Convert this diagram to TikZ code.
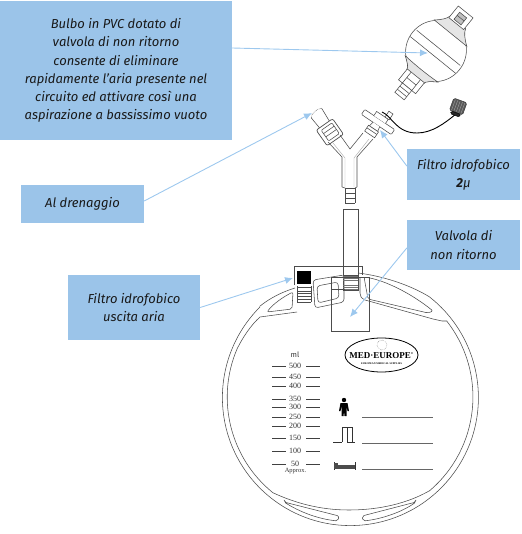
\documentclass[tikz,border=0pt]{standalone}
\usepackage{fontspec}
\usetikzlibrary{arrows.meta,shapes.geometric}
\setmainfont{Fira Sans}
\newfontfamily\logofont{Liberation Serif}
\begin{document}
\begin{tikzpicture}[x=1pt,y=-1pt,font=\fontsize{13}{18}\selectfont,
  etichetta/.style={fill=azzurro,align=center,inner sep=0pt,font=\fontsize{13}{18.3}\selectfont\itshape,text=black!90},
  freccia/.style={azzurroF,line width=0.9pt,-{Latex[length=8pt,width=7pt]}},
  tratto/.style={draw=black!70,line width=0.55pt},
  sottile/.style={draw=black!35,line width=0.4pt},
  tacca/.style={draw=black!75,line width=1pt},
  scala/.style={inner sep=0pt,text=black!80,font=\logofont\fontsize{8}{8}\selectfont}]
\definecolor{azzurro}{RGB}{155,196,233}
\definecolor{azzurroF}{RGB}{157,200,238}
\useasboundingbox (0,0) rectangle (521,534);
\node[etichetta,minimum width=232pt,minimum height=139pt] (bulbo) at (116,70.5)
  {Bulbo in PVC dotato di\\valvola di non ritorno\\consente di eliminare\\rapidamente l'aria presente nel\\circuito ed attivare così una\\aspirazione a bassissimo vuoto};
\node[etichetta,minimum width=123pt,minimum height=38pt] (drenaggio) at (82.5,204) {Al drenaggio};
\node[etichetta,minimum width=132pt,minimum height=65pt] (uscita) at (134,307.5) {Filtro idrofobico\\uscita aria};
\node[etichetta,minimum width=113pt,minimum height=51pt] (filtro) at (463.5,174.5) {Filtro idrofobico\\{\bfseries 2}µ};
\node[etichetta,minimum width=113pt,minimum height=50pt] (valvola) at (463.5,245) {Valvola di\\non ritorno};

\begin{scope}[shift={(436,51)},rotate=-39]
  \draw[tratto] (0,0) ellipse (30 and 31);
  \draw[tratto] (-28,-4) -- (28,-4);
  \draw[tratto] (-29,5) -- (29,5);
  \filldraw[tratto,fill=black!10] (-21,-23) .. controls (-8,-23) and (8,-23) .. (21,-23) .. controls (14,-28) and (10,-32) .. (9,-36) -- (-11,-36) .. controls (-12,-32) and (-15,-28) .. cycle;
  \filldraw[tratto,fill=white] (-11,-49) rectangle (8,-34);
  \filldraw[tratto,fill=black!25] (-6,-45) rectangle (3,-36);
  \draw[tratto] (-6,-41) -- (3,-41);
  \filldraw[tratto,fill=black!10] (-21,23) .. controls (-8,24) and (8,24) .. (21,23) .. controls (15,27) and (11,30) .. (11,33) -- (-11,33) .. controls (-11,30) and (-15,27) .. cycle;
  \filldraw[tratto,fill=white] (-11,32) rectangle (11,46);
  \draw[tratto] (-6,32) -- (-6,46) (6,32) -- (6,46) (-6,39) -- (6,39);
  \filldraw[tratto,fill=white] (-6,46) rectangle (6,58);
  \draw[tratto] (-6,50) -- (6,50) (-6,54) -- (6,54);
\end{scope}

\draw[tratto] (342,187) -- (342,157) -- (328,142);
\draw[tratto] (340,135) -- (350,149) -- (363,133);
\draw[tratto] (373,139) -- (357,157) -- (357,187);
\draw[sottile] (345,187) -- (345,158) -- (333,143);
\draw[sottile] (354,187) -- (354,158) -- (369,139);
\draw[tratto] (342,187) -- (345,188) (357,187) -- (355,188);
\foreach \quota in {188,193,198,203} {
  \draw[tratto] (345,\quota) -- (355,\quota);
}
\draw[tratto] (345,188) -- (345,203) (355,188) -- (355,203);

\begin{scope}[shift={(329,131)},rotate=35]
  \draw[tratto] (-6,-8) -- (-7,-21);
  \draw[tratto] (6,-8) -- (7,-23);
  \draw[tratto,densely dotted] (-7,-21) .. controls (-4,-25) and (3,-25) .. (7,-23);
  \draw[tratto,rounded corners=2pt,line width=0.7pt] (-10,-8) rectangle (10,11);
  \draw[tratto,rounded corners=1pt] (-6,-5) rectangle (7,8);
  \draw[tratto] (-6,-1) -- (7,-1) (-6,3) -- (7,3);
\end{scope}

\begin{scope}[shift={(378,122)},rotate=-34]
  \filldraw[tratto,fill=white,rounded corners=1pt] (-18,-3) rectangle (18,3);
  \filldraw[tratto,fill=white] (-7,-3) -- (-7,-8) -- (7,-8) -- (7,-3);
  \filldraw[tratto,fill=white] (3,-8) rectangle (8,-15);
  \filldraw[tratto,fill=white] (-4,3) -- (-5,8) -- (5,8) -- (4,3);
  \filldraw[tratto,fill=white] (-6,8) rectangle (6,15);
  \draw[tratto] (-6,11) -- (6,11);
\end{scope}

\draw[black,line width=0.9pt] (382,112) .. controls (392,116) and (396,133) .. (417,133) .. controls (432,133) and (445,123) .. (456,114);
\begin{scope}[shift={(458,107)},rotate=-20]
  \filldraw[draw=black!80,fill=black!65,rounded corners=1.5pt] (-7,-7) rectangle (7,6);
  \filldraw[draw=black,fill=black!85,rounded corners=1.5pt] (-5,6) rectangle (5,9);
  \foreach \x in {-5,-2.5,0,2.5,5} {
    \draw[black!30,line width=0.3pt] (\x,-6) -- (\x,5);
  }
\end{scope}

\draw[tratto] (343,275) -- (343,209) -- (358,209) -- (358,275);
\draw[tratto] (294,285) -- (294,266) -- (362,266) -- (362,275);
\fill[black] (297,271) rectangle (311,284);
\draw[tratto] (297,286) -- (297,302) (311,286) -- (311,302);
\foreach \quota in {287,291,293,296,299,302} {
  \draw[tratto] (297,\quota) -- (311,\quota);
}
\draw[tratto,rounded corners=3pt] (313,280) -- (344,275) -- (344,302) -- (315,308) -- cycle;
\draw[tratto,rounded corners=3pt] (317,286) -- (338,282) -- (339,298) -- (318,303) -- cycle;
\draw[tratto] (343,275) rectangle (358,290);
\foreach \quota in {276,278,280,285,287,289} {
  \draw[black!55,line width=0.5pt] (343,\quota) -- (358,\quota);
}
\draw[tratto] (331,277) rectangle (369,331);
\draw[tratto] (331,289) -- (345,289);

\draw[tratto] (358,273) .. controls (383,276) and (410,285) .. (429.2,296.7);
\draw[tratto] (429.2,296.7) arc[start angle=-52,end angle=225,radius=128];
\draw[tratto] (295,288) .. controls (282,292) and (270,298) .. (259.5,306.5);
\draw[tratto] (297,312) -- (260,317) .. controls (251,325) and (243,337) .. (237,349);
\draw[tratto] (237,349) arc[start angle=203,end angle=129,radius=123];
\draw[tratto] (272.6,492.6) .. controls (295,503) and (320,510) .. (349,510) .. controls (380,510) and (408,503) .. (429,491);
\draw[tratto] (429,491.2) arc[start angle=50,end angle=-38,radius=123];
\draw[tratto] (447,321) -- (442,321) -- (433,319) -- (365,300) .. controls (361,298) and (360,296) .. (360,293) -- (360,277);
\draw[tratto,rounded corners=2pt] (267,312) .. controls (273,304) and (283,297) .. (293,292) -- (292,309) -- cycle;
\draw[tratto,rounded corners=2pt] (364,277) .. controls (385,280) and (412,294) .. (433,311) -- (428,313) -- (368,299) -- cycle;
\draw[tratto,rounded corners=2pt] (284,502) -- (339,516) -- (338,521) .. controls (318,519) and (300,512) .. cycle;
\draw[tratto,rounded corners=2pt] (416,502) -- (362,516) -- (363,521) .. controls (382,519) and (402,512) .. cycle;

\node[draw=black,line width=0.8pt,ellipse,minimum width=73pt,minimum height=34pt,inner sep=0pt] (marchio) at (381.5,355) {};
\node[inner sep=0pt,font=\logofont\bfseries\fontsize{9}{9}\selectfont] (nomemarchio) at (381.5,355.7) {MED·EUROPE\textsuperscript{\fontsize{3}{3}\selectfont ®}};
\node[inner sep=0pt,font=\logofont\bfseries\fontsize{2.6}{3}\selectfont] (sottomarchio) at (381.5,364) {EUROPEAN MEDICAL SUPPLIES};
\node[draw=black!60,densely dotted,circle,line width=0.4pt,minimum size=10pt,inner sep=0pt] (stelle) at (382,345) {};

\node[scala,font=\fontsize{7.5}{8}\selectfont] (ml) at (295,355) {ml};
\foreach \valore/\quota in {500/366,450/377,400/386,350/399,300/407,250/417,200/426,150/438,100/451,50/464} {
  \draw[tacca] (272,\quota) -- (286,\quota);
  \draw[tacca] (306,\quota) -- (320,\quota);
  \node[scala] (v\valore) at (295,\quota) {\valore};
}
\node[scala,font=\logofont\fontsize{6.5}{6}\selectfont] (circa) at (295.5,471) {Approx.};

\foreach \quota in {417,443,469} {
  \draw[draw=black!60,line width=0.9pt] (362,\quota) -- (433,\quota);
}
\fill[black] (344,400) circle (2.2);
\fill[black] (340.5,403) -- (347.5,403) -- (349,411) -- (347.5,411) -- (346.5,406) -- (346.5,416) -- (344.5,416) -- (344,411) -- (343.5,416) -- (341.5,416) -- (341.5,406) -- (340.5,411) -- (339,411) -- cycle;
\draw[black!80,line width=0.7pt] (333,442) -- (342,442) (342,442) -- (342,427) -- (352,427) (347,442) -- (355,442) (347,442) -- (347,428) (352,427) -- (352,442);
\draw[black!80,line width=0.8pt] (334,462) -- (334,469.5) (355,462) -- (355,469.5);
\fill[black!70] (334,465) rectangle (355,468.5);
\fill[black!70] (334,463) rectangle (338,465);

\coordinate (puntaBulbo) at (428,53);
\coordinate (puntaDrenaggio) at (312,113);
\coordinate (puntaUscita) at (293,278);
\coordinate (puntaFiltro) at (380,130);
\coordinate (puntaValvola) at (350,317);
\draw[freccia] ([yshift=22.5pt]bulbo.east) -- (puntaBulbo);
\draw[freccia] ([yshift=3pt]drenaggio.east) -- (puntaDrenaggio);
\draw[freccia] (uscita.east) -- (puntaUscita);
\draw[freccia] ([yshift=8.5pt]filtro.west) -- (puntaFiltro);
\draw[freccia] ([yshift=-3pt]valvola.west) -- (puntaValvola);
\end{tikzpicture}
\end{document}
